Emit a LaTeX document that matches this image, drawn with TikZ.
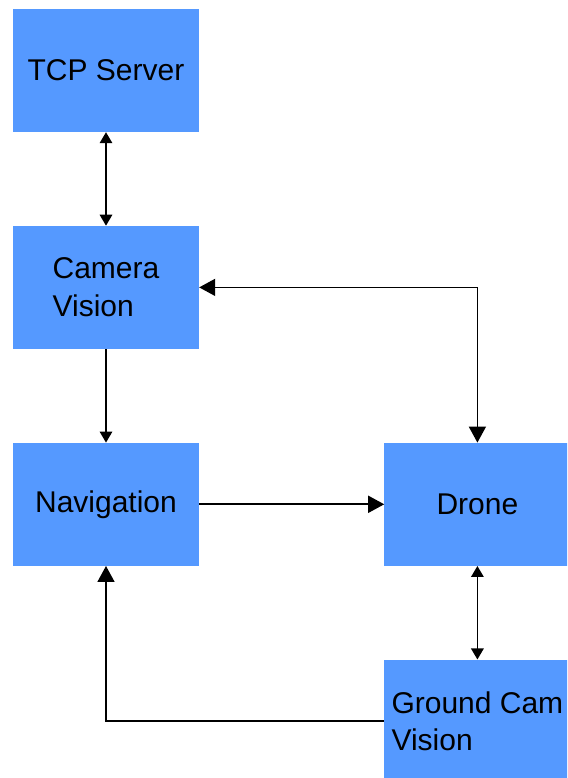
\documentclass[tikz,border=0pt]{standalone}
\usepackage{fontspec}
\setmainfont{Liberation Sans}
\usepackage{tikz}
\usetikzlibrary{arrows.meta,positioning,calc}
\definecolor{boxblue}{RGB}{85,153,255}

\begin{document}
\begin{tikzpicture}[
    x=1pt, y=1pt,
    block/.style={fill=boxblue, minimum width=186pt, minimum height=123pt, inner sep=0pt,
        align=left, font=\fontsize{30}{37.5}\selectfont},
    small tip/.tip={Triangle[width=12.5pt,length=11pt]},
    big tip/.tip={Triangle[width=17pt,length=16pt]},
    link/.style={line width=1.6pt, -small tip},
    twoway/.style={line width=1.6pt, small tip-small tip},
    biglink/.style={line width=1.6pt, -big tip},
    bigtwoway/.style={line width=1.6pt, big tip-big tip},
]
    \useasboundingbox (0,0) rectangle (567,778);
    \clip (0,0) rectangle (567,778);
    % Left column
    \node[block] (tcp) at (106,707.5) {TCP Server};
    \node[block, below=93.5pt of tcp] (camera) {Camera\\Vision};
    \node[block, below=93.5pt of camera] (nav) {Navigation};
    % Right column
    \node[block, right=185pt of nav] (drone) {Drone};
    \node[block, below=93.5pt of drone] (ground) {Ground Cam\\Vision};
    % Connections
    \draw[twoway] (tcp) -- (camera);
    \draw[link] (camera) -- (nav);
    \draw[bigtwoway] (camera.east) -| (drone.north);
    \draw[biglink] (nav) -- (drone);
    \draw[twoway] (drone) -- (ground);
    \draw[biglink] (ground.west) -| (nav.south);
\end{tikzpicture}
\end{document}
